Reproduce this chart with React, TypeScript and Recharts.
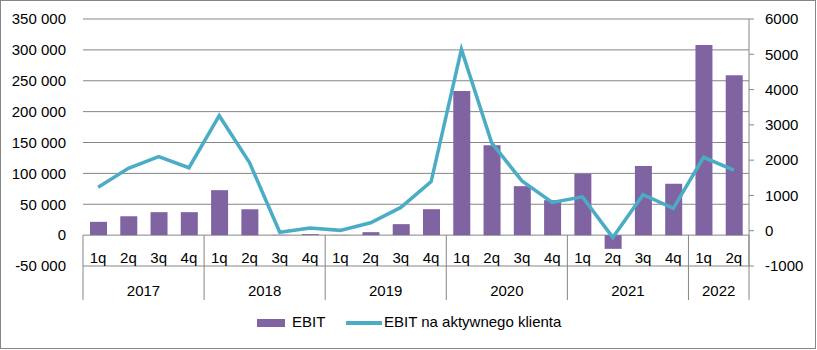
import React from "react";
import { Bar, CartesianGrid, ComposedChart, Legend, Line, XAxis, YAxis } from "recharts";

const quarters = ["1q", "2q", "3q", "4q", "1q", "2q", "3q", "4q", "1q", "2q", "3q", "4q", "1q", "2q", "3q", "4q", "1q", "2q", "3q", "4q", "1q", "2q"];
const years = ["2017", "2017", "2017", "2017", "2018", "2018", "2018", "2018", "2019", "2019", "2019", "2019", "2020", "2020", "2020", "2020", "2021", "2021", "2021", "2021", "2022", "2022"];
const ebit = [21500, 30700, 37200, 37200, 72800, 42000, 400, 1600, 300, 4800, 17800, 42000, 233500, 145600, 79300, 56600, 99200, -22200, 112100, 83000, 308000, 258900];
const ebitPerClient = [1230, 1770, 2100, 1785, 3260, 1930, -45, 75, 10, 225, 660, 1390, 5140, 2490, 1410, 800, 960, -190, 1020, 635, 2080, 1720];
const leftTicks = [-50000, 0, 50000, 100000, 150000, 200000, 250000, 300000, 350000];
const rightTicks = [-1000, 0, 1000, 2000, 3000, 4000, 5000, 6000];

const data = quarters.map((q, i) => ({ q, year: years[i], ebit: ebit[i], perClient: ebitPerClient[i] }));

const W = 817;
const H = 350;
const PLOT_LEFT = 83;
const PLOT_RIGHT = 749;
const PLOT_TOP = 19;
const PLOT_BOTTOM = 266;
const BAND = (PLOT_RIGHT - PLOT_LEFT) / quarters.length;
const ROW = ((PLOT_BOTTOM - PLOT_TOP) * 50000) / 400000;
const FONT = "'Liberation Sans', Arial, sans-serif";
const GRID = "#868686";
const PURPLE = "#8064A2";
const TEAL = "#4BACC6";

const fmt = (v: number) => String(v).replace(/\B(?=(\d{3})+(?!\d))/g, " ");

function CategoryTick(props: any) {
  const { x, y, index } = props;
  const year = years[index];
  const first = index === 0 || years[index - 1] !== year;
  const last = index === years.length - 1;
  const count = years.filter((v) => v === year).length;
  return (
    <g>
      <text x={x} y={y - 3} textAnchor="middle" fill="#000" fontSize={15} fontFamily={FONT}>
        {quarters[index]}
      </text>
      {first && (
        <>
          <line x1={x - BAND / 2} x2={x - BAND / 2} y1={y - ROW} y2={y + 34} stroke={GRID} />
          <text x={x + ((count - 1) / 2) * BAND} y={y + 29.5} textAnchor="middle" fill="#000" fontSize={15} fontFamily={FONT}>
            {year}
          </text>
        </>
      )}
      {last && <line x1={x + BAND / 2} x2={x + BAND / 2} y1={y - ROW} y2={y + 34} stroke={GRID} />}
    </g>
  );
}

function LegendBox() {
  return (
    <div style={{ height: 50, width: W, position: "relative", fontFamily: FONT, fontSize: 15, color: "#000" }}>
      <div style={{ position: "absolute", left: 257, top: 19, width: 28, height: 8, background: PURPLE }} />
      <div style={{ position: "absolute", left: 292, top: 13, lineHeight: "18px" }}>EBIT</div>
      <div style={{ position: "absolute", left: 346, top: 21, width: 36, height: 4, background: TEAL }} />
      <div style={{ position: "absolute", left: 384, top: 13, lineHeight: "18px" }}>EBIT na aktywnego klienta</div>
    </div>
  );
}

export default function App() {
  return (
    <div style={{ position: "absolute", left: 0, top: 0, width: W, height: H, background: "#fff" }}>
      <ComposedChart width={W} height={H} data={data} margin={{ top: PLOT_TOP, right: 0, bottom: 0, left: 0 }}>
        <CartesianGrid yAxisId="left" vertical={false} stroke={GRID} />
        <XAxis
          dataKey="q"
          interval={0}
          height={34}
          axisLine={false}
          tickLine={false}
          tickSize={0}
          tickMargin={0}
          tick={<CategoryTick />}
        />
        <YAxis
          yAxisId="left"
          width={PLOT_LEFT}
          domain={[-50000, 350000]}
          ticks={leftTicks}
          interval={0}
          axisLine={false}
          tickLine={false}
          tickSize={0}
          tickMargin={17}
          tickFormatter={fmt}
          tick={{ fill: "#000", fontSize: 15, fontFamily: FONT }}
        />
        <YAxis
          yAxisId="right"
          orientation="right"
          width={W - PLOT_RIGHT}
          domain={[-1000, 6000]}
          ticks={rightTicks}
          interval={0}
          axisLine={{ stroke: GRID }}
          tickLine={{ stroke: GRID }}
          tickSize={5}
          tickMargin={11}
          tick={{ fill: "#000", fontSize: 15, fontFamily: FONT }}
        />
        <Legend verticalAlign="bottom" wrapperStyle={{ left: 0, bottom: 0, width: W }} content={() => <LegendBox />} />
        <Bar yAxisId="left" dataKey="ebit" name="EBIT" fill={PURPLE} barSize={17} isAnimationActive={false} />
        <Line
          yAxisId="right"
          dataKey="perClient"
          name="EBIT na aktywnego klienta"
          type="linear"
          stroke={TEAL}
          strokeWidth={3.5}
          dot={false}
          activeDot={false}
          isAnimationActive={false}
        />
      </ComposedChart>
      <div
        style={{
          position: "absolute",
          left: 0,
          top: 0,
          width: 816,
          height: 349,
          boxSizing: "border-box",
          border: `1px solid ${GRID}`,
          pointerEvents: "none",
        }}
      />
    </div>
  );
}
